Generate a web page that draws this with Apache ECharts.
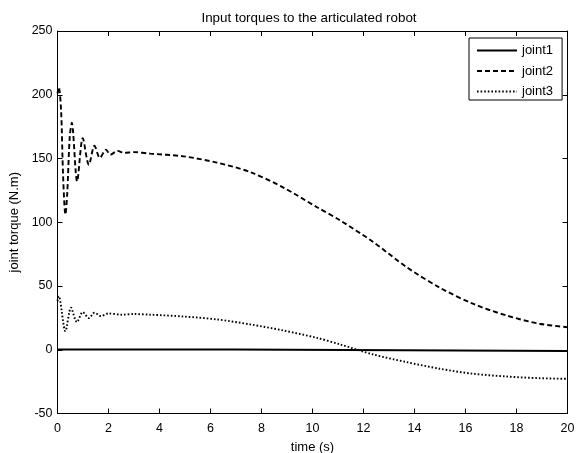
<!DOCTYPE html>
<html>
<head>
<meta charset="utf-8">
<script src="https://cdn.jsdelivr.net/npm/echarts@6/dist/echarts.min.js"></script>
<style>html,body{margin:0;padding:0;background:#fff}#c{width:576px;height:453px}</style>
</head>
<body>
<div id="c"></div>
<script>
var xTicks = [0, 2, 4, 6, 8, 10, 12, 14, 16, 18, 20];
var yTicks = [-50, 0, 50, 100, 150, 200, 250];

var t1 = [0, 6.93, 6.95, 20];
var joint1 = [0.2, 0.2, -0.9, -0.9];

var t2 = [0, 0.05, 0.14, 0.22, 0.31, 0.38, 0.48, 0.56, 0.77, 0.99, 1.23, 1.45, 1.66, 1.9, 2.07, 2.36, 2.6, 3, 3.64, 4.94, 6.25, 7.55, 8.86, 10.16, 11.08, 12.38, 13.69, 14.99, 16.29, 17.6, 18.9, 20];
var joint2 = [201, 206, 188, 136, 106, 122, 167, 178, 132, 166, 145, 160, 150.5, 157, 153, 156, 154.5, 155, 153.8, 151.7, 146.8, 139.4, 127.2, 112, 101.5, 84.5, 64.8, 48.7, 36.1, 26.9, 20.4, 17.7];

var t3 = [0, 0.05, 0.31, 0.53, 0.76, 0.99, 1.23, 1.45, 1.7, 2.0, 2.5, 3, 3.64, 4.94, 6.25, 7.55, 8.86, 10.16, 11.08, 12.38, 13.69, 14.99, 16.29, 17.6, 18.9, 20];
var joint3 = [38, 42, 14.6, 33, 21.7, 29.5, 24.8, 29, 26.5, 28.5, 27.5, 28, 27.5, 26.1, 23.8, 19.9, 15.1, 9.4, 4.2, -3.7, -9.7, -14.9, -18.8, -21, -22.3, -22.8];

function pairs(t, v) { return t.map(function (x, i) { return [x, v[i]]; }); }

var FONT = 'Liberation Sans';
var chart = echarts.init(document.getElementById('c'), null, {renderer: 'canvas'});
function axisCommon() {
  return {
    axisLine: {show: true, onZero: false, lineStyle: {color: '#000', width: 1}},
    axisTick: {show: true, inside: true, length: 5, lineStyle: {color: '#000'}},
    splitLine: {show: false}
  };
}
chart.setOption({
  animation: false,
  backgroundColor: '#fff',
  title: {
    text: 'Input torques to the articulated robot',
    left: 304, top: 7, textAlign: 'center',
    textStyle: {fontFamily: FONT, fontSize: 13.4, fontWeight: 'normal', color: '#000'}
  },
  legend: {
    orient: 'vertical', left: 469, top: 38,
    itemWidth: 40, itemHeight: 14, itemGap: 7.5,
    padding: [6, 9, 2, 7],
    borderColor: '#000', borderWidth: 1, backgroundColor: '#fff',
    itemStyle: {opacity: 0},
    textStyle: {fontFamily: FONT, fontSize: 13, color: '#000'},
    data: ['joint1', 'joint2', 'joint3']
  },
  grid: {left: 57.5, right: 8.5, top: 31, bottom: 39.5, outerBoundsMode: 'none', containLabel: false},
  xAxis: [
    Object.assign(axisCommon(), {
      type: 'value', position: 'bottom', min: 0, max: 20, interval: 2,
      name: 'time (s)', nameLocation: 'middle', nameGap: 27,
      nameTextStyle: {fontFamily: FONT, fontSize: 13, color: '#000'},
      axisLabel: {fontFamily: FONT, fontSize: 12.5, color: '#000', margin: 9,
        formatter: function (v) { return xTicks.indexOf(v) >= 0 ? String(v) : ''; }}
    }),
    Object.assign(axisCommon(), {
      type: 'value', position: 'top', min: 0, max: 20, interval: 2,
      axisLabel: {show: false}
    })
  ],
  yAxis: [
    Object.assign(axisCommon(), {
      type: 'value', position: 'left', min: -50, max: 250, interval: 50,
      name: 'joint torque (N.m)', nameLocation: 'middle', nameGap: 29.5,
      nameTextStyle: {fontFamily: FONT, fontSize: 13, color: '#000'},
      axisLabel: {fontFamily: FONT, fontSize: 12.5, color: '#000', margin: 5,
        formatter: function (v) { return yTicks.indexOf(v) >= 0 ? String(v) : ''; }}
    }),
    Object.assign(axisCommon(), {
      type: 'value', position: 'right', min: -50, max: 250, interval: 50,
      axisLabel: {show: false}
    })
  ],
  series: [
    {name: 'joint1', type: 'line', data: pairs(t1, joint1), showSymbol: false, symbol: 'none',
      lineStyle: {color: '#000', width: 2, type: 'solid'}, itemStyle: {color: '#000'}},
    {name: 'joint2', type: 'line', data: pairs(t2, joint2), showSymbol: false, symbol: 'none', smooth: 0.3,
      lineStyle: {color: '#000', width: 1.9, type: [5, 3]}, itemStyle: {color: '#000'}},
    {name: 'joint3', type: 'line', data: pairs(t3, joint3), showSymbol: false, symbol: 'none', smooth: 0.3,
      lineStyle: {color: '#000', width: 1.9, type: [1.6, 2]}, itemStyle: {color: '#000'}}
  ]
});
</script>
</body>
</html>
